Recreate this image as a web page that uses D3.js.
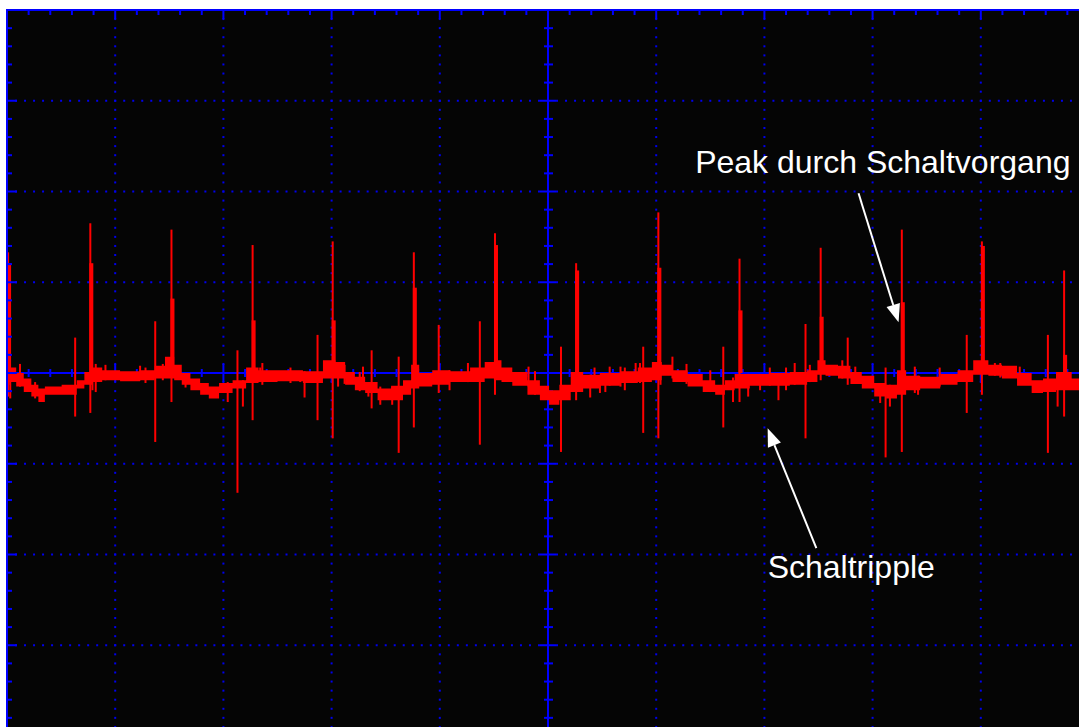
<!DOCTYPE html>
<html>
<head>
<meta charset="utf-8">
<script src="https://cdn.jsdelivr.net/npm/d3@7"></script>
<style>
body { margin: 0; background: #ffffff; }
svg { display: block; }
</style>
</head>
<body>
<div id="scope"></div>
<script>
// time in us (100 us / div), voltage in mV (100 mV / div)
var gridTimes = [0, 100, 200, 300, 400, 500, 600, 700, 800, 900, 1000];
var gridVolts = [-400, -300, -200, -100, 0, 100, 200, 300, 400];

// envelope of the ripple band (upper / lower edge)
var bandTime = [0, 5, 12, 19, 26, 32, 38, 63, 66, 77, 81, 95, 114, 132, 141, 151, 158, 165, 174, 183, 190, 202, 215, 227, 238, 262, 285, 299, 308, 317, 326, 336, 349, 361, 371, 376, 386, 400, 419, 437, 446, 454, 460, 474, 488, 497, 505, 516, 526, 539, 557, 576, 590, 602, 608, 622, 636, 650, 659, 668, 677, 696, 714, 733, 746, 752, 761, 775, 784, 796, 807, 818, 827, 835, 853, 872, 885, 901, 913, 926, 941, 953, 962, 977, 991, 1000];
var bandHigh = [9, 6, 0, -6, -13, -17, -15, -13, -8, 1, 6, 3, 2, 3, 8, 18, 9, 0, -6, -11, -15, -11, -8, 6, 3, 3, 2, 14, 12, 1, -4, -10, -17, -14, -8, 9, 0, 3, 2, 6, 12, 14, 6, 1, -8, -14, -19, -13, 1, -2, 0, 2, 6, 12, 9, 3, -1, -8, -13, -8, -1, -1, 0, 1, 3, 14, 9, 8, 1, -3, -11, -13, 3, -3, -4, -1, 3, 14, 9, 8, 0, -8, -6, 1, -6, -6];
var bandLow = [-13, -10, -15, -21, -26, -32, -24, -24, -17, -13, -10, -8, -9, -8, -6, -6, -8, -13, -19, -24, -28, -22, -17, -11, -10, -9, -11, -6, -6, -13, -19, -22, -30, -30, -24, -17, -15, -13, -10, -10, -6, -8, -10, -14, -24, -30, -35, -30, -21, -17, -14, -11, -10, -8, -3, -10, -15, -21, -24, -19, -17, -14, -14, -13, -10, -2, -3, -6, -12, -17, -26, -28, -24, -19, -17, -13, -10, -2, -3, -6, -14, -22, -21, -19, -19, -19];

// switching peaks
var spikeTime = [1, 63, 77, 137, 152, 213, 227, 287, 301, 337, 362, 376, 399, 437, 451, 512, 526, 588, 602, 662, 677, 713, 738, 752, 777, 812, 827, 887, 901, 962, 977];
var spikeHigh = [133, 39, 165, 57, 158, 25, 141, 42, 145, 25, 18, 133, 53, 57, 154, 29, 121, 29, 177, 29, 126, -2, 54, 138, 39, 6, 158, 42, 145, 42, 113];
var spikeLow = [-26, -48, -44, -76, -32, -132, -52, -52, -72, -39, -88, -60, -22, -79, -24, -87, -30, -66, -72, -60, -32, -30, -72, -8, -13, -93, -87, -44, -24, -88, -48];
var spikeShoulder = [121, 0, 121, 0, 82, 0, 58, 0, 58, 0, 0, 94, 0, 0, 141, 0, 113, 0, 116, 0, 69, 0, 0, 62, 0, 0, 78, 0, 140, 0, 20];

// small needles on the ripple band
var needleTime = [3, 12, 26, 79, 82, 91, 123, 128, 144, 165, 204, 218, 234, 236, 262, 271, 275, 306, 312, 326, 329, 334, 345, 356, 409, 426, 482, 488, 539, 543, 548, 553, 557, 567, 571, 581, 585, 604, 615, 628, 650, 671, 685, 696, 705, 720, 728, 742, 772, 784, 807, 816, 839, 842, 862, 913, 918, 936, 971];
var needleHigh = [0, 10, -10, -5, 10, 9, 8, 6, 10, 0, -10, -8, 6, 11, 6, 0, 2, 10, 9, 1, 7, -10, -15, -15, 3, 11, 7, 2, -2, 6, -2, -2, 7, 7, 6, 11, 11, 12, 18, 10, 3, -5, -1, -1, 6, 6, 11, 9, 14, 7, -11, -13, 7, -3, 6, 11, 11, 7, -10];
var needleLow = [-28, -15, -28, -19, -21, -8, -8, -11, -8, -16, -32, -37, -10, -13, -11, -10, -27, -15, -12, -20, -17, -26, -35, -35, -19, -10, -15, -24, -27, -15, -22, -21, -14, -15, -19, -11, -11, -13, -6, -12, -21, -32, -26, -19, -14, -19, -13, -10, -6, -11, -33, -37, -22, -24, -15, -3, -5, -8, -37];

// annotations: text position, arrow tail, arrow tip
var noteText = ["Peak durch Schaltvorgang", "Schaltripple"];
var noteTextTime = [636, 703];
var noteTextVolt = [220, -226];
var noteTailTime = [787, 748];
var noteTailVolt = [198, -193];
var noteTipTime = [824, 703];
var noteTipVolt = [56, -61];

var width = 1079, height = 727;

var x = d3.scaleLinear().domain([0, 1000]).range([7, 1089]);
var y = d3.scaleLinear().domain([-400, 400]).range([736, 10]);

var svg = d3.select("#scope")
  .append("svg")
  .attr("width", width)
  .attr("height", height);

// screen
svg.append("rect")
  .attr("x", x(0))
  .attr("y", y(400))
  .attr("width", width - x(0))
  .attr("height", height - y(400))
  .attr("fill", "#050505");

// dotted grid
var grid = svg.append("g").attr("fill", "#0000ee");
gridTimes.forEach(function(t) {
  if (t == 0 || t == 500) return;
  grid.selectAll(null)
    .data(d3.range(-400, 400.01, 10))
    .enter().append("rect")
    .attr("x", x(t) - 1)
    .attr("y", function(v) { return y(v) - 1; })
    .attr("width", 2)
    .attr("height", 2);
});
gridVolts.forEach(function(v) {
  if (v == 0 || v == 400) return;
  grid.selectAll(null)
    .data(d3.range(0, 1000.01, 100 / 12))
    .enter().append("rect")
    .attr("x", function(t) { return x(t) - 1; })
    .attr("y", y(v) - 1)
    .attr("width", 2)
    .attr("height", 2);
});

// centre axes
var axes = svg.append("g").attr("stroke", "#0000ff").attr("stroke-width", 2);
axes.append("line")
  .attr("x1", x(500)).attr("x2", x(500))
  .attr("y1", y(400)).attr("y2", height);
axes.append("line")
  .attr("x1", x(0)).attr("x2", width)
  .attr("y1", y(0)).attr("y2", y(0));

var tickTimes = d3.range(0, 1001, 20);
var tickVolts = d3.range(-400, 401, 20);
function isMajor(v) { return v % 100 == 0; }

axes.selectAll(null)
  .data(tickVolts)
  .enter().append("line")
  .attr("x1", function(v) { return x(500) - (isMajor(v) ? 8 : 4); })
  .attr("x2", function(v) { return x(500) + (isMajor(v) ? 8 : 5); })
  .attr("y1", function(v) { return y(v); })
  .attr("y2", function(v) { return y(v); });
axes.selectAll(null)
  .data(tickTimes)
  .enter().append("line")
  .attr("x1", function(t) { return x(t); })
  .attr("x2", function(t) { return x(t); })
  .attr("y1", function(t) { return y(0) - (isMajor(t) ? 9 : 4); })
  .attr("y2", function(t) { return y(0) + (isMajor(t) ? 9 : 4); });

// trace
var trace = svg.append("g").attr("fill", "#ff0000");

var band = bandTime.map(function(t, i) { return {t: t, hi: bandHigh[i], lo: bandLow[i]}; });
trace.append("path")
  .datum(band)
  .attr("d", d3.area()
    .x(function(d) { return x(d.t); })
    .y0(function(d) { return y(d.lo); })
    .y1(function(d) { return y(d.hi); })
    .curve(d3.curveStep));

trace.selectAll(".needle")
  .data(needleTime)
  .enter().append("rect")
  .attr("class", "needle")
  .attr("x", function(t) { return x(t) - 1; })
  .attr("y", function(t, i) { return y(needleHigh[i]); })
  .attr("width", 2)
  .attr("height", function(t, i) { return y(needleLow[i]) - y(needleHigh[i]); });

trace.selectAll(".spike")
  .data(spikeTime)
  .enter().append("rect")
  .attr("class", "spike")
  .attr("x", function(t) { return x(t) - 1; })
  .attr("y", function(t, i) { return y(spikeHigh[i]); })
  .attr("width", 2)
  .attr("height", function(t, i) { return y(spikeLow[i]) - y(spikeHigh[i]); });

trace.selectAll(".shoulder")
  .data(spikeTime.filter(function(t, i) { return spikeShoulder[i] > 0; }))
  .enter().append("rect")
  .attr("class", "shoulder")
  .attr("x", function(t) { return x(t) - 1; })
  .attr("y", function(t) { return y(spikeShoulder[spikeTime.indexOf(t)]); })
  .attr("width", 4)
  .attr("height", function(t) { return y(0) - y(spikeShoulder[spikeTime.indexOf(t)]); });

// frame (top and left edges, the rest is off screen)
var frame = svg.append("g").attr("stroke", "#0000ff").attr("stroke-width", 2);
frame.append("line")
  .attr("x1", x(0) - 1).attr("x2", width)
  .attr("y1", y(400)).attr("y2", y(400));
frame.append("line")
  .attr("x1", x(0)).attr("x2", x(0))
  .attr("y1", y(400) - 1).attr("y2", height);
frame.selectAll(null)
  .data(tickTimes)
  .enter().append("line")
  .attr("x1", function(t) { return x(t); })
  .attr("x2", function(t) { return x(t); })
  .attr("y1", y(400))
  .attr("y2", function(t) { return y(400) + (isMajor(t) ? 9 : 5); });
frame.selectAll(null)
  .data(tickVolts)
  .enter().append("line")
  .attr("x1", x(0))
  .attr("x2", function(v) { return x(0) + (isMajor(v) ? 10 : 5); })
  .attr("y1", function(v) { return y(v); })
  .attr("y2", function(v) { return y(v); });

// annotations
var notes = svg.append("g");
noteText.forEach(function(txt, i) {
  notes.append("text")
    .attr("x", x(noteTextTime[i]))
    .attr("y", y(noteTextVolt[i]))
    .attr("fill", "#ffffff")
    .attr("font-family", "Liberation Sans, Arial, sans-serif")
    .attr("font-size", 32)
    .text(txt);

  var x0 = x(noteTailTime[i]), y0 = y(noteTailVolt[i]);
  var x1 = x(noteTipTime[i]), y1 = y(noteTipVolt[i]);
  var ang = Math.atan2(y1 - y0, x1 - x0);
  var len = 18, half = 7;
  var bx = x1 - len * Math.cos(ang), by = y1 - len * Math.sin(ang);
  notes.append("line")
    .attr("x1", x0).attr("y1", y0)
    .attr("x2", bx).attr("y2", by)
    .attr("stroke", "#ffffff")
    .attr("stroke-width", 2);
  notes.append("polygon")
    .attr("points", [
      [x1, y1],
      [bx + half * Math.sin(ang), by - half * Math.cos(ang)],
      [bx - half * Math.sin(ang), by + half * Math.cos(ang)]
    ].map(function(p) { return p.join(","); }).join(" "))
    .attr("fill", "#ffffff");
});
</script>
</body>
</html>
